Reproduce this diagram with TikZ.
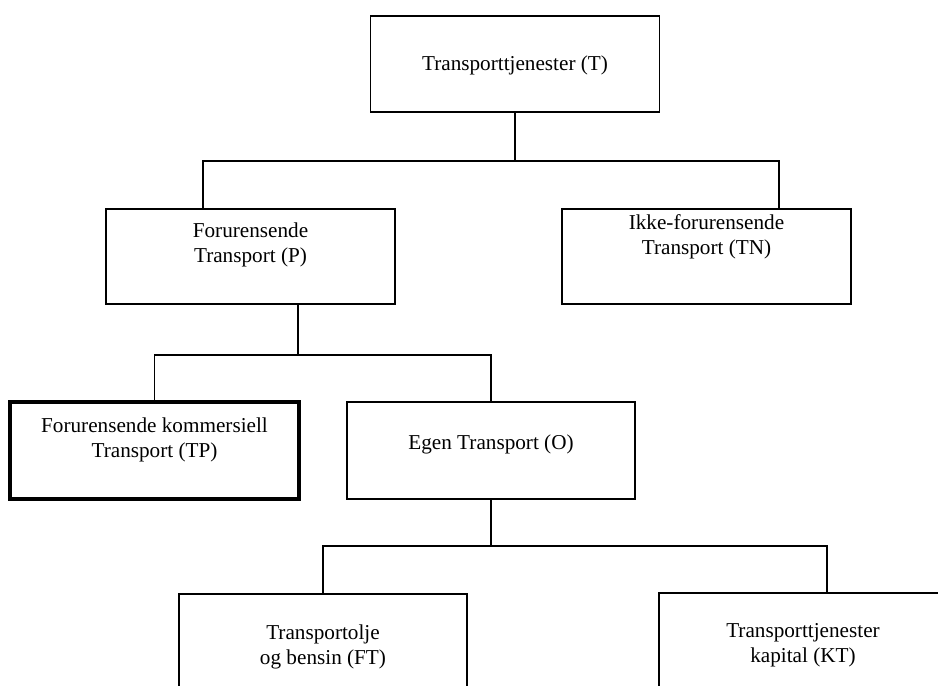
\documentclass[tikz,border=0pt]{standalone}
\usepackage{fontspec}
\setmainfont{Liberation Serif}
\usepackage{tikz}
\usetikzlibrary{calc,positioning}

\begin{document}
\begin{tikzpicture}[x=0.5pt, y=-0.5pt,
  box/.style={draw, line width=0.9pt, minimum width=144.5pt, minimum height=48pt, inner sep=0pt},
  thickbox/.style={box, line width=2pt},
  lbl/.style={align=center, font=\fontsize{10.6}{12.5}\selectfont, inner sep=0pt},
  link/.style={line width=0.9pt}]
  \useasboundingbox (0,0) rectangle (938,686);

  \node[box] (T) at (515,64) {};
  \node[box, minimum height=47.5pt] (P) at (250.5,256.5) {};
  \node[box, minimum height=47.5pt] (TN) at (706.5,256.5) {};
  \node[thickbox, minimum height=48.5pt] (TP) at (154.5,450.5) {};
  \node[box, minimum width=144pt, minimum height=48.5pt] (O) at (491,450.5) {};
  \node[box, minimum width=144pt] (FT) at (323,642) {};
  \node[box, minimum width=144pt] (KT) at (803,641) {};

  \node[lbl] (T-txt) at ($(T)+(0,1)$) {Transporttjenester (T)};
  \node[lbl] (P-txt) at ($(P)+(0,-12)$) {Forurensende\\Transport (P)};
  \node[lbl] (TN-txt) at ($(TN)+(0,-20)$) {Ikke-forurensende\\Transport (TN)};
  \node[lbl] (TP-txt) at ($(TP)+(0,-11)$) {Forurensende kommersiell\\Transport (TP)};
  \node[lbl] (O-txt) at ($(O)+(0,-6.5)$) {Egen Transport (O)};
  \node[lbl] (FT-txt) at ($(FT)+(0,5)$) {Transportolje\\og bensin (FT)};
  \node[lbl] (KT-txt) at ($(KT)+(0,4)$) {Transporttjenester\\kapital (KT)};

  \coordinate (T-bus) at ($(T.south)+(0,48)$);
  \coordinate (P-bus) at ($(P.south)+(47.5,50)$);
  \coordinate (O-bus) at ($(O.south)+(0,46)$);

  \draw[link] (T.south) -- (T-bus);
  \draw[link] (T-bus) -| ($(P.north)+(-47.5,0)$);
  \draw[link] (T-bus) -| ($(TN.north)+(72.5,0)$);
  \draw[link] ($(P.south)+(47.5,0)$) -- (P-bus);
  \draw[link] (P-bus) -| (TP.north);
  \draw[link] (P-bus) -| (O.north);
  \draw[link] (O.south) -- (O-bus);
  \draw[link] (O-bus) -| (FT.north);
  \draw[link] (O-bus) -| ($(KT.north)+(24,0)$);
\end{tikzpicture}
\end{document}
